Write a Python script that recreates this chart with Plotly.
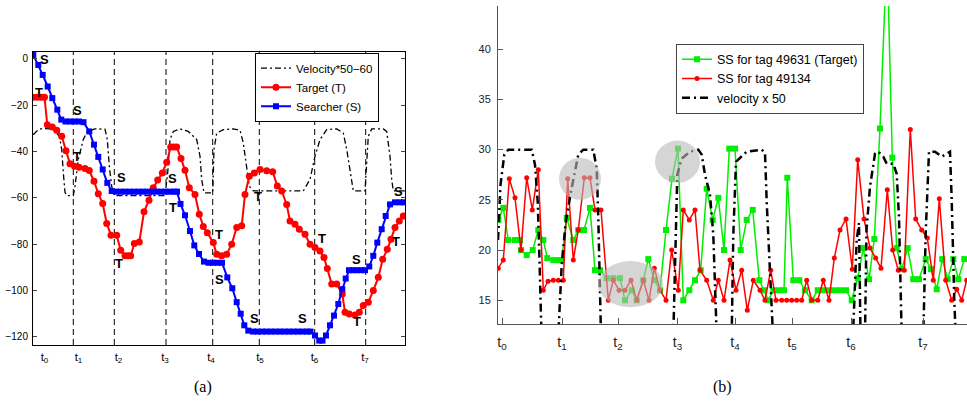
import plotly.graph_objects as go

W, H = 967, 403

# ---------------- panel (a) data ----------------
vel_a_t = [33.3, 38.3, 43, 53, 59.3, 61.7, 63.3, 65, 66.7, 73.3, 75, 78.3, 83.3, 87.3, 95,
           105, 107.3, 109.3, 111.7, 114.3, 165, 167.7, 170, 173.3, 180, 188.3, 196.7, 200, 201.7, 204,
           212.7, 214, 216.7, 223.3, 233.3, 240, 243.3, 246.7, 249.3, 253.3, 303.3, 310, 315, 320, 326.7,
           336.7, 343.3, 346.7, 350, 353.3, 365, 366.7, 368.3, 371.7, 383.3, 386.7, 390, 391.7, 393.3, 405]
vel_a_v = [-32.7, -30.5, -30, -30.2, -33.4, -39, -49, -57.6, -59, -59, -55, -43.4, -34.8, -31.3, -30.2,
           -30.3, -34.8, -46.3, -55, -59, -59, -49.2, -34.8, -31.3, -30.2, -31.3, -34.8, -42, -52, -57.8,
           -57.8, -39, -32, -30.5, -30.2, -30.8, -36.3, -46.3, -55, -57, -57, -52, -42, -34.8, -30.5,
           -30.2, -32, -39, -49, -57, -57, -46.3, -33.4, -30.2, -30.2, -31.3, -42, -52, -57, -57]

tgt_a_t = [33, 37, 41, 44.5, 47.3, 52.3, 56.7, 61.7, 66, 70, 74.5, 79, 85, 89.3, 94, 98.3, 102.7,
           106.7, 111, 116.7, 120.7, 125, 128, 130.7, 134.3, 139.3, 144, 149, 153.3, 157.7, 162.3,
           166.7, 170.7, 173.7, 176.7, 181, 185, 189.3, 195, 199.3, 203.3, 207.3, 213.3, 216.7, 221.7,
           226.7, 231.7, 236.7, 241.7, 245, 249.3, 254.3, 260, 266.7, 272.7, 277.3, 281.7, 286.7, 290,
           295, 299.3, 305, 310, 315, 320, 324, 327.3, 331.7, 336.7, 342.3, 345, 349.3, 355, 359.3,
           363.3, 368.3, 373.3, 378.3, 382.7, 387.3, 391, 395, 399.3, 403.3]
tgt_a_v = [-16.5, -16.5, -16.5, -16.5, -28.4, -29.4, -30.8, -33.4, -39.6, -45.2, -46.3, -46.8, -47.3,
           -48.2, -52.8, -58.2, -62.4, -71, -76.1, -76.1, -82.6, -85, -85, -85, -79.7, -79, -66, -61,
           -55.6, -52.3, -49.2, -44.6, -38, -38, -38, -43, -48, -55.6, -58.5, -67, -72.3, -75, -79.3,
           -84.3, -85, -84.3, -80, -72.8, -72, -58.5, -50.6, -49.2, -47.7, -48.3, -48.7, -54.9, -57,
           -62.8, -70, -71.4, -73.5, -75.7, -80, -81.4, -82.9, -85.7, -90.5, -97.2, -97.2, -101.5,
           -109.4, -110.1, -110.5, -109.4, -106.5, -105, -100, -94.3, -86.5, -82.2, -77.8, -72.8, -70, -67.8]

src_a_t = [33.3, 38.3, 42.7, 47.7, 52.3, 57.3, 61.3, 65.5, 70, 74.5, 79, 83.5, 89.3, 94, 98.3, 102.7,
           107.3, 111.7, 116, 120.5, 125, 129.5, 134, 138.5, 143, 147.5, 152, 156.5, 161, 165.5, 170,
           174.5, 177, 180.5, 185, 190, 194.3, 199, 204, 208.5, 213, 217.5, 222, 227.3, 232.3, 236.7,
           240.7, 244.3, 248.3, 253, 257.5, 262, 266.5, 271, 275.5, 280, 284.5, 289, 293.5, 298, 302.5,
           307, 310.5, 315, 319.3, 322.5, 326, 330, 334, 338.3, 342.3, 345.7, 349, 353, 357, 361, 365,
           369.3, 373.3, 377.3, 381.7, 385.7, 390, 395, 400, 404]
src_a_v = [1.7, -2.6, -6.9, -11.9, -16.9, -21.9, -26.2, -27, -27, -27, -27, -27.3, -31.3, -37, -42.3,
           -47.7, -53.5, -57, -57.3, -57.3, -57.3, -57.3, -57.3, -57.3, -57.3, -57.3, -57.3, -57.3,
           -57.3, -57.3, -57.3, -57.3, -57.3, -62.6, -67.5, -74.3, -80.5, -84.2, -87.5, -88, -88, -88,
           -88, -94.3, -99, -105, -110, -115, -117.3, -117.7, -117.7, -117.7, -117.7, -117.7, -117.7,
           -117.7, -117.7, -117.7, -117.7, -117.7, -117.7, -117.7, -117.7, -119.4, -121.6, -121.6,
           -119.4, -115, -110.8, -105.8, -99.4, -94.8, -91.2, -91.2, -91.2, -91.2, -91.2, -89.6, -85,
           -79.3, -73.5, -67.8, -62.8, -61.9, -61.9, -61.9]

s_lab_t = [44.3, 77.7, 121.7, 172.7, 219.3, 254.3, 302.7, 356, 398.3]
s_lab_v = [-0.1, -22.3, -51.1, -51.5, -95.2, -112, -112, -86.5, -57.3]
t_lab_t = [39, 76.7, 119.3, 172.7, 219.3, 258.3, 321.7, 356.7, 396]
t_lab_v = [-14.6, -42.2, -88.3, -64.1, -76, -59.5, -77.5, -113.5, -78.9]

a_event_t = [73.3, 114.3, 166, 212.7, 259.3, 314.7, 365.7]
a_tick_t = [44.5, 78.5, 118.5, 165, 211, 260, 314.5, 365]
a_tick_txt = ["t<sub>%d</sub>" % i for i in range(8)]
a_yticks = [0, -20, -40, -60, -80, -100, -120]

# ---------------- panel (b) data ----------------
grn_t = [498.3, 503.3, 508.3, 515, 520, 521, 526.7, 532.7, 538.3, 543.3, 547.3, 553.3, 558.3, 561.7,
         566.7, 573.3, 578.3, 584, 590, 595, 600, 606.7, 613.3, 620, 625, 631.7, 636.7, 643.3, 648.3,
         654.3, 660, 666, 672, 678, 683.3, 689.3, 695, 700.7, 706.7, 712.7, 718.3, 724, 729.3, 735,
         740.7, 746.7, 752.7, 759.3, 764, 768.3, 773.3, 779, 784, 787.3, 793.3, 799.3, 805, 811.7,
         817.7, 823, 829, 834, 840, 846, 851.7, 857.7, 863.3, 869, 874.3, 880, 887, 892.3, 896.7,
         901.7, 907.7, 913.3, 919, 925.7, 931, 936.7, 942.3, 947.7, 953.3, 958.3, 964.3]
grn_v = [23, 24.2, 21, 21, 21, 20, 19.5, 20, 22, 21, 19.2, 19, 19, 19, 23.2, 21, 22, 22, 24.2, 18, 18,
         17.2, 17.2, 17.2, 15, 16, 15, 17, 19.1, 17, 16, 22, 27.1, 30.1, 15, 16, 17, 18, 26.1, 23,
         25.2, 20, 30.1, 30.1, 20, 23, 24, 17, 16, 15, 16, 16, 16, 27.2, 17, 17, 16, 15, 16, 16, 16,
         16, 16, 16, 15, 17.2, 20.2, 17.1, 21.1, 32.1, 50, 29.2, 20.2, 18.1, 20.2, 17.1, 17.1, 19.1,
         18.1, 16.1, 19.1, 17.1, 19.1, 17.1, 19.1]

red_t = [498.3, 503.3, 509.3, 515, 521, 526.7, 532.3, 538.3, 543.3, 548, 553.3, 558.3, 563.3, 567.7,
         573.3, 578.3, 584.3, 590, 595, 601, 608.3, 613.3, 619, 625, 631, 636.7, 643.3, 649, 654.3,
         660, 666, 671.7, 678.3, 683.3, 689.3, 695, 700, 706.7, 713.3, 718.3, 724, 730, 736, 741.7,
         747.3, 753.3, 760, 765, 770.7, 776, 781.7, 786.7, 791.7, 796.7, 801.7, 806.7, 811.7, 817.7,
         823.3, 829, 834.3, 840, 846, 852.3, 857.7, 864, 870, 875.7, 881, 887.3, 892.7, 898.3, 904.3,
         910.3, 915.7, 921.7, 927.3, 933.3, 939.3, 945.7, 951.7, 956.7, 961.7, 966.7]
red_v = [18.2, 19, 27.1, 25.2, 20, 27.2, 24, 28, 16, 16.9, 17, 17, 17, 27.1, 19, 22, 27.2, 27.2, 24,
         24, 15, 17, 16, 16, 17, 15, 17, 15, 18.2, 16, 15, 20, 16, 24, 23, 24, 18, 17, 15, 17, 15, 19,
         16, 18, 14, 17, 16, 15, 18, 15, 15, 15, 15, 15, 15, 17, 15, 15, 17, 15, 19.2, 22, 23.1, 18.1,
         29, 23.1, 20.2, 19.2, 18.2, 26, 20, 18, 18, 32, 23.1, 22, 21.2, 17, 25.1, 17, 15, 16.1, 15, 17]

vel_b_t = [498, 500.5, 504.3, 508.3, 520, 531.7, 535, 537.7, 539.5, 541.5, 558.3, 561.7, 565.7, 571.7,
           578.3, 583.3, 593.3, 596.7, 598.3, 599.3, 601, 673.3, 675, 677.3, 681.7, 690, 698.3, 701.7,
           705, 710, 713.3, 715, 716.7, 731.7, 733.3, 736, 738.3, 746.7, 761.7, 765, 766.7, 770, 773,
           853, 856.7, 859, 860.5, 865, 866.5, 870, 875, 878.3, 883.3, 886.7, 893.3, 896.7, 899, 901.7,
           923.3, 925.7, 929, 935, 941.7, 950, 951.7, 954.3, 955.7, 967]
vel_b_v = [21, 26.5, 29.5, 30, 30, 30, 28.5, 24.8, 19, 11.5, 11.5, 18.5, 22.8, 26.2, 29.5, 30, 30, 28.1,
           23.2, 18.2, 11.5, 11.5, 19.8, 27.5, 29.1, 29.8, 30, 29.5, 27.5, 25.5, 21.5, 16.5, 11.5, 11.5,
           21.5, 28.8, 29, 29.8, 30, 29.7, 24.8, 18.2, 11.5, 11.5, 21, 22.7, 11.5, 11.5, 22, 26.3, 29.6,
           29.8, 29.3, 28.6, 28.6, 27.6, 23.3, 11.5, 11.5, 21.7, 29.8, 29.8, 29.3, 29.8, 25, 15, 11.5, 11.5]

b_tick_t = [502, 562, 618, 677.5, 735, 792, 851, 923]
b_tick_txt = ["t<sub>%d</sub>" % i for i in range(8)]
b_yticks = [15, 20, 25, 30, 35, 40]

# highlighted regions (x0, x1, y0, y1) in data units
ell_x0 = [559, 655, 598]
ell_x1 = [601, 700, 663]
ell_y0 = [25.0, 26.7, 14.3]
ell_y1 = [29.2, 30.9, 18.9]

FONT = "Liberation Sans, Arial, Helvetica, sans-serif"
SERIF = "Liberation Serif, Times New Roman, serif"

fig = go.Figure()

# ---- panel (a) traces ----
fig.add_trace(go.Scatter(x=vel_a_t, y=vel_a_v, mode="lines", name="Velocity*50\u221260",
                         line=dict(color="black", width=1.3, dash="6px,3px,2px,3px"),
                         xaxis="x", yaxis="y", legend="legend"))
fig.add_trace(go.Scatter(x=tgt_a_t, y=tgt_a_v, mode="lines+markers", name="Target (T)",
                         line=dict(color="#ff0000", width=2),
                         marker=dict(symbol="circle", size=7, color="#ff0000"),
                         xaxis="x", yaxis="y", legend="legend"))
fig.add_trace(go.Scatter(x=src_a_t, y=src_a_v, mode="lines+markers", name="Searcher (S)",
                         line=dict(color="#0000ff", width=2),
                         marker=dict(symbol="square", size=6, color="#0000ff"),
                         xaxis="x", yaxis="y", legend="legend"))

# ---- panel (b) traces ----
fig.add_trace(go.Scatter(x=grn_t, y=grn_v, mode="lines+markers", name="SS for tag 49631 (Target)",
                         line=dict(color="#00ee00", width=1.5),
                         marker=dict(symbol="square", size=6, color="#00ee00"),
                         xaxis="x2", yaxis="y2", legend="legend2"))
fig.add_trace(go.Scatter(x=red_t, y=red_v, mode="lines+markers", name="SS for tag 49134",
                         line=dict(color="#ff0000", width=1.5),
                         marker=dict(symbol="circle", size=5, color="#ff0000"),
                         xaxis="x2", yaxis="y2", legend="legend2"))
fig.add_trace(go.Scatter(x=vel_b_t, y=vel_b_v, mode="lines", name="velocity x 50",
                         line=dict(color="black", width=2.5, dash="8px,4px,2px,4px"),
                         xaxis="x2", yaxis="y2", legend="legend2"))

shapes = []
for xe in a_event_t:
    shapes.append(dict(type="line", xref="x", yref="y domain", x0=xe, x1=xe, y0=0, y1=1,
                       line=dict(color="black", width=1, dash="6px,4px"), layer="below"))
for i in range(len(ell_x0)):
    shapes.append(dict(type="circle", xref="x2", yref="y2", x0=ell_x0[i], x1=ell_x1[i],
                       y0=ell_y0[i], y1=ell_y1[i], fillcolor="rgb(185,185,185)", opacity=0.6,
                       line=dict(width=0), layer="above"))

annotations = []
for x, y in zip(s_lab_t, s_lab_v):
    annotations.append(dict(x=x, y=y, xref="x", yref="y", text="<b>S</b>", showarrow=False,
                            font=dict(family=FONT, size=13, color="black")))
for x, y in zip(t_lab_t, t_lab_v):
    annotations.append(dict(x=x, y=y, xref="x", yref="y", text="<b>T</b>", showarrow=False,
                            font=dict(family=FONT, size=13, color="black")))
annotations.append(dict(x=203 / W, y=1 - 387 / H, xref="paper", yref="paper", text="(a)",
                        xanchor="center", yanchor="middle", showarrow=False,
                        font=dict(family=SERIF, size=16, color="black")))
annotations.append(dict(x=722 / W, y=1 - 387 / H, xref="paper", yref="paper", text="(b)",
                        xanchor="center", yanchor="middle", showarrow=False,
                        font=dict(family=SERIF, size=16, color="black")))

fig.update_layout(
    width=W, height=H,
    margin=dict(l=0, r=0, t=0, b=0),
    paper_bgcolor="white", plot_bgcolor="white",
    font=dict(family=FONT, color="black"),
    shapes=shapes, annotations=annotations,
    xaxis=dict(domain=[33 / W, 405 / W], range=[33, 405], showgrid=False, zeroline=False,
               showline=True, linecolor="black", linewidth=1, mirror=True, ticks="",
               tickvals=a_tick_t, ticktext=a_tick_txt, tickfont=dict(size=11.5),
               ticklabelstandoff=1),
    yaxis=dict(domain=[1 - 345 / H, 1 - 52 / H], range=[-123.5, 3.0], showgrid=False, zeroline=False,
               showline=True, linecolor="black", linewidth=1, mirror="ticks", ticks="inside",
               ticklen=4, tickvals=a_yticks,
               ticktext=[("\u2212%d" % -v) if v < 0 else str(v) for v in a_yticks],
               tickfont=dict(size=10), ticklabelstandoff=2),
    xaxis2=dict(domain=[498 / W, 1.0], range=[498, 967], showgrid=False, zeroline=False,
                showline=True, linecolor="#555555", linewidth=1, mirror=False, ticks="inside",
                ticklen=6, tickcolor="#555555", tickvals=b_tick_t, ticktext=b_tick_txt,
                tickfont=dict(size=14, color="#222222"), ticklabelstandoff=5, anchor="y2"),
    yaxis2=dict(domain=[1 - 324 / H, 1 - 6 / H], range=[12.64, 44.3], showgrid=False, zeroline=False,
                showline=True, linecolor="#555555", linewidth=1, mirror=False, ticks="inside",
                ticklen=5, tickcolor="#555555", tickvals=b_yticks,
                tickfont=dict(size=11, color="#222222"), ticklabelstandoff=4, anchor="x2"),
    legend=dict(x=255 / W, y=1 - 52.7 / H, xanchor="left", yanchor="top", bgcolor="white",
                bordercolor="black", borderwidth=1, font=dict(size=11.5, color="black"),
                tracegroupgap=0),
    legend2=dict(x=676 / W, y=1 - 43.7 / H, xanchor="left", yanchor="top", bgcolor="white",
                 bordercolor="#444444", borderwidth=1, font=dict(size=12.5, color="black"),
                 tracegroupgap=0),
)

fig.write_html("out.html")
